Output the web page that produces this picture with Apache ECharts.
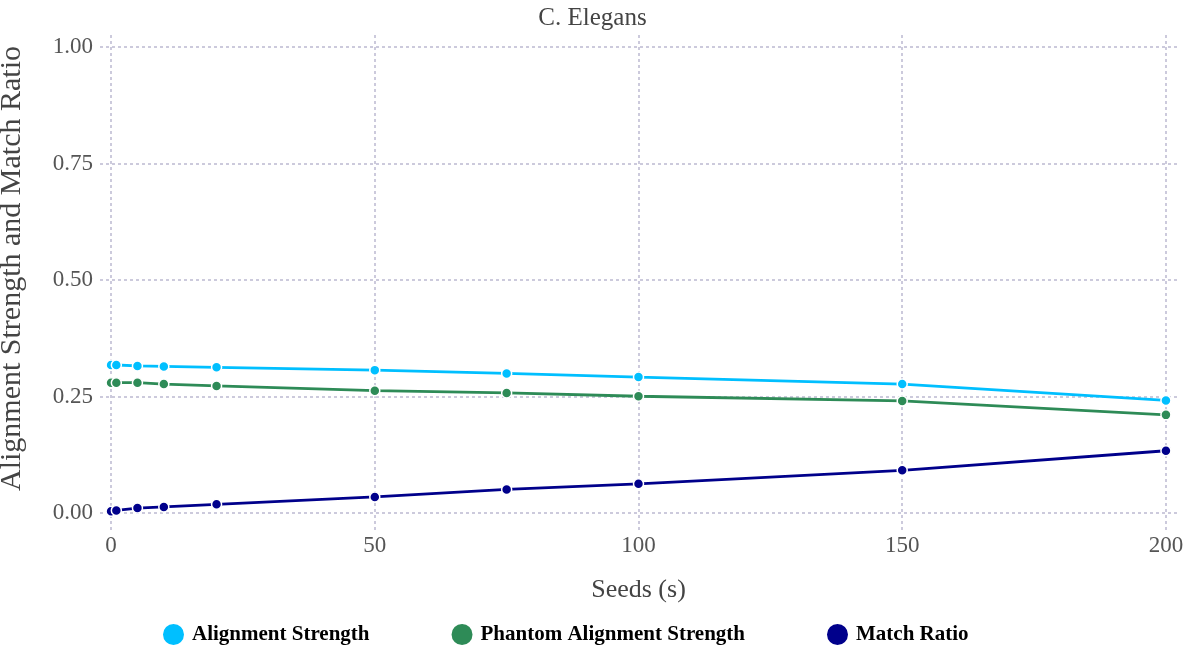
<!DOCTYPE html>
<html>
<head>
<meta charset="utf-8">
<script src="https://cdn.jsdelivr.net/npm/echarts@6/dist/echarts.min.js"></script>
<style>html,body{margin:0;padding:0;background:#fff}#c{width:1185px;height:645px}</style>
</head>
<body>
<div id="c"></div>
<script>
const seeds = [0, 1, 5, 10, 20, 50, 75, 100, 150, 200];
const alignmentStrength = [0.318, 0.318, 0.316, 0.315, 0.313, 0.307, 0.300, 0.292, 0.277, 0.242];
const phantomAlignment = [0.280, 0.280, 0.280, 0.277, 0.273, 0.263, 0.258, 0.251, 0.241, 0.211];
const matchRatio = [0.004, 0.006, 0.011, 0.0135, 0.019, 0.035, 0.051, 0.063, 0.092, 0.134];
const xTicks = [0, 50, 100, 150, 200];
const yTicks = [0, 0.25, 0.5, 0.75, 1.0];
const seriesNames = ['Alignment Strength', 'Phantom Alignment Strength', 'Match Ratio'];
const colors = ['#00BFFF', '#2E8B57', '#00008B'];

const FONT = '"Liberation Serif", "DejaVu Serif", serif';
const pair = arr => seeds.map((s, i) => [s, arr[i]]);
const mk = (name, arr, color) => ({
  name, type: 'line', data: pair(arr), smooth: false,
  symbol: 'circle', symbolSize: 10, showSymbol: true,
  lineStyle: { color, width: 2.8 },
  itemStyle: { color, borderColor: '#fff', borderWidth: 1.5 },
  emphasis: { disabled: true }
});

const chart = echarts.init(document.getElementById('c'), null, { renderer: 'canvas' });
const gridStyle = { show: true, lineStyle: { color: '#cccadc', type: [3, 3], width: 2 } };
chart.setOption({
  animation: false,
  color: colors,
  title: {
    text: 'C. Elegans', left: 'center', top: 1,
    textStyle: { fontFamily: FONT, fontSize: 25, fontWeight: 'normal', color: '#444' }
  },
  legend: {
    left: 156, top: 617, itemGap: 80, itemWidth: 23, itemHeight: 23,
    icon: 'circle',
    data: seriesNames,
    textStyle: { fontFamily: FONT, fontSize: 21, color: '#000', fontWeight: 'bold', padding: [0, 0, 0, 2] }
  },
  grid: { left: 100, right: 8, top: 35, bottom: 115, containLabel: false, outerBoundsMode: 'none' },
  xAxis: {
    type: 'value', min: -2.1, max: 202.1,
    name: 'Seeds (s)', nameLocation: 'middle', nameGap: 47,
    nameTextStyle: { fontFamily: FONT, fontSize: 26, color: '#444' },
    axisLine: { show: false }, axisTick: { show: false, customValues: xTicks },
    axisLabel: { customValues: xTicks, fontFamily: FONT, fontSize: 23, color: '#555', margin: 4 },
    splitLine: gridStyle
  },
  yAxis: {
    type: 'value', min: -0.036, max: 1.026,
    name: 'Alignment Strength and Match Ratio', nameLocation: 'middle', nameGap: 73,
    nameTextStyle: { fontFamily: FONT, fontSize: 30, color: '#444', padding: [0, 0, 0, 28] },
    axisLine: { show: false }, axisTick: { show: false, customValues: yTicks },
    axisLabel: { customValues: yTicks, fontFamily: FONT, fontSize: 23, color: '#555', margin: 7,
      formatter: v => v.toFixed(2) },
    splitLine: gridStyle
  },
  series: [
    mk(seriesNames[0], alignmentStrength, colors[0]),
    mk(seriesNames[1], phantomAlignment, colors[1]),
    mk(seriesNames[2], matchRatio, colors[2])
  ]
});
</script>
</body>
</html>
